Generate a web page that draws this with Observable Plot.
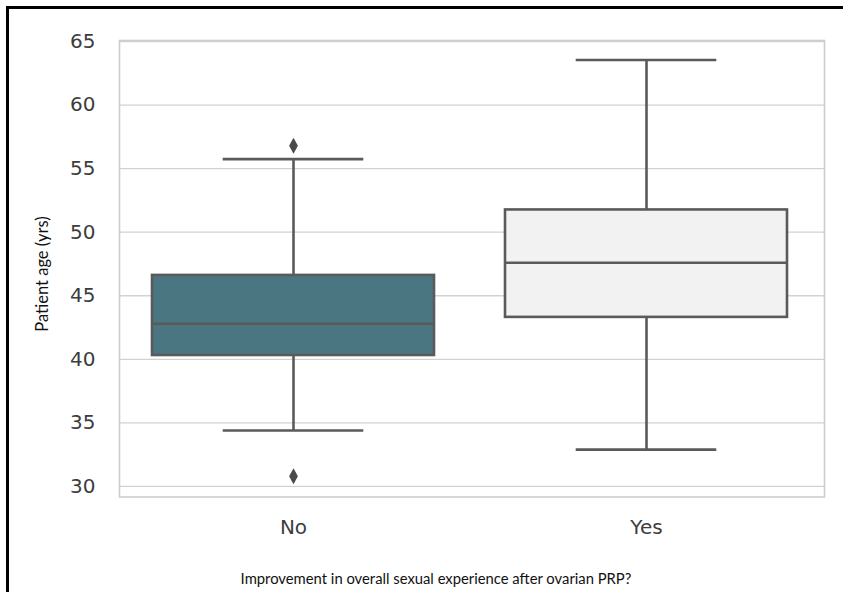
<!DOCTYPE html>
<html>
<head>
<meta charset="utf-8">
<script src="https://cdn.jsdelivr.net/npm/d3@7"></script>
<script src="https://cdn.jsdelivr.net/npm/@observablehq/plot@0.6"></script>
<style>
  html, body { margin: 0; padding: 0; background: #fff; }
  #wrap { position: relative; width: 843px; height: 592px; overflow: hidden; background: #fff; }
  #frame { position: absolute; left: 6px; top: 6px; width: 900px; height: 700px; border-left: 3px solid #000; border-top: 3px solid #000; box-sizing: border-box; pointer-events: none; }
  #chart { position: absolute; left: 0; top: 0; }
  .lab { position: absolute; font-family: Lato, "Open Sans", sans-serif; color: #111; white-space: nowrap; }
  #ylab { left: 42px; top: 274px; font-size: 16.5px; transform: translate(-50%, -50%) rotate(-90deg); }
  #xlab { left: 436px; top: 578px; font-size: 14.8px; transform: translate(-50%, -50%); }
</style>
</head>
<body>
<div id="wrap">
  <div id="chart"></div>
  <div id="frame"></div>
  <div class="lab" id="ylab">Patient age (yrs)</div>
  <div class="lab" id="xlab">Improvement in overall sexual experience after ovarian PRP?</div>
</div>
<script>
// Data
const categories = ["No", "Yes"];
const whiskerLow = [34.4, 32.9];
const q1 = [40.3, 43.3];
const median = [42.8, 47.6];
const q3 = [46.6, 51.75];
const whiskerHigh = [55.75, 63.55];
const boxFill = ["#4a7682", "#f2f2f2"];
const outlierCategory = ["No", "No"];
const outlierValue = [56.8, 30.8];
const yTicks = [30, 35, 40, 45, 50, 55, 60, 65];

const boxes = categories.map((c, i) => ({
  cat: c, lo: whiskerLow[i], q1: q1[i], med: median[i], q3: q3[i], hi: whiskerHigh[i], fill: boxFill[i]
}));
const outliers = outlierCategory.map((c, i) => ({cat: c, v: outlierValue[i]}));

const thinDiamond = {
  draw(ctx, size) {
    const r = Math.sqrt(size / Math.PI);
    const h = r * 2, w = r * 1.1;
    ctx.moveTo(0, -h); ctx.lineTo(w, 0); ctx.lineTo(0, h); ctx.lineTo(-w, 0); ctx.closePath();
  }
};

const edge = "#5a5a5a";
const capInset = 70.7;

const chart = Plot.plot({
  width: 843,
  height: 592,
  marginLeft: 119,
  marginRight: 19,
  marginTop: 40,
  marginBottom: 95.5,
  style: { fontFamily: "DejaVu Sans, sans-serif", background: "transparent", overflow: "visible" },
  x: { domain: categories, paddingInner: 0.2, paddingOuter: 0.096, align: 0.47 },
  y: { domain: [29.17, 65.08] },
  marks: [
    Plot.gridY(yTicks, { stroke: "#d2d2d2", strokeOpacity: 1, strokeWidth: 1.3 }),
    Plot.frame({ stroke: "#cdcdcd", strokeWidth: 1.6 }),
    Plot.ruleX(boxes, { x: "cat", y1: "lo", y2: "q1", stroke: edge, strokeWidth: 2.6 }),
    Plot.ruleX(boxes, { x: "cat", y1: "q3", y2: "hi", stroke: edge, strokeWidth: 2.6 }),
    Plot.tickY(boxes, { x: "cat", y: "lo", stroke: edge, strokeWidth: 2.6, insetLeft: capInset, insetRight: capInset }),
    Plot.tickY(boxes, { x: "cat", y: "hi", stroke: edge, strokeWidth: 2.6, insetLeft: capInset, insetRight: capInset }),
    Plot.barY(boxes, { x: "cat", y1: "q1", y2: "q3", fill: d => d.fill, stroke: edge, strokeWidth: 2.6 }),
    Plot.tickY(boxes, { x: "cat", y: "med", stroke: edge, strokeWidth: 2.6 }),
    Plot.dot(outliers, { x: "cat", y: "v", symbol: thinDiamond, r: 4, fill: "#4a4a4a", stroke: "none" }),
    Plot.axisY(yTicks, { tickSize: 0, tickPadding: 24, fontSize: 20, color: "#3d3d3d", label: null }),
    Plot.axisX({ tickSize: 0, tickPadding: 23, fontSize: 20, color: "#3d3d3d", label: null })
  ]
});
document.getElementById("chart").appendChild(chart);
</script>
</body>
</html>
